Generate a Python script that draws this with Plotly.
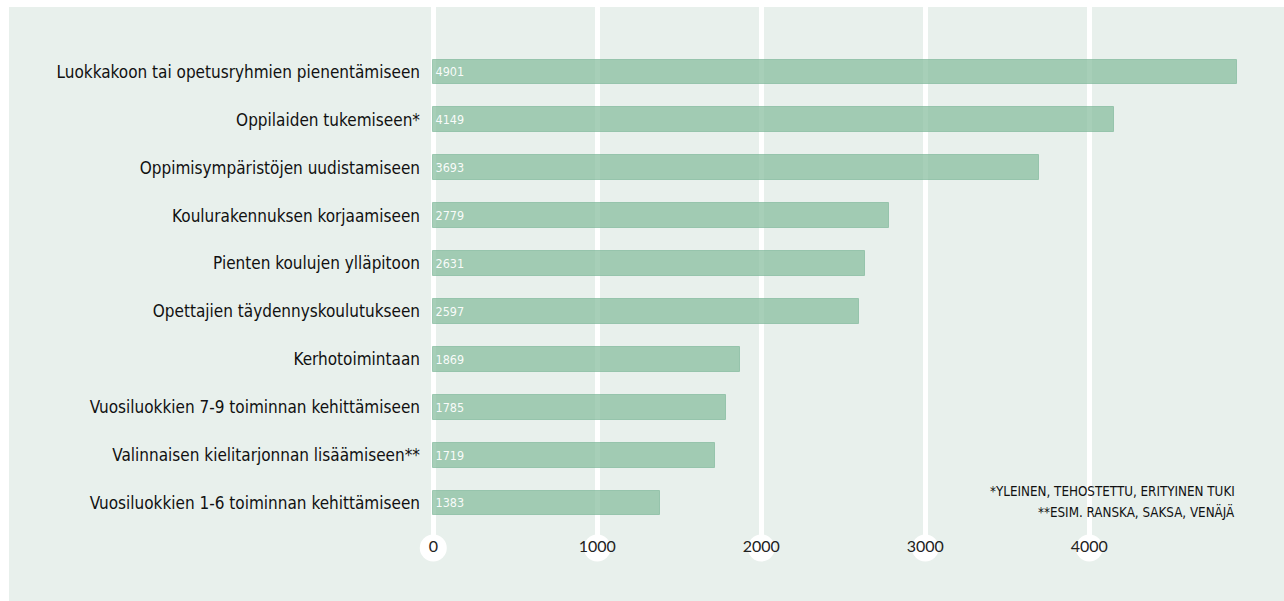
import plotly.graph_objects as go

# Survey answers: where additional school funding should be directed
categories = [
    "Luokkakoon tai opetusryhmien pienentämiseen",
    "Oppilaiden tukemiseen*",
    "Oppimisympäristöjen uudistamiseen",
    "Koulurakennuksen korjaamiseen",
    "Pienten koulujen ylläpitoon",
    "Opettajien täydennyskoulutukseen",
    "Kerhotoimintaan",
    "Vuosiluokkien 7-9 toiminnan kehittämiseen",
    "Valinnaisen kielitarjonnan lisäämiseen**",
    "Vuosiluokkien 1-6 toiminnan kehittämiseen",
]
values = [4901, 4149, 3693, 2779, 2631, 2597, 1869, 1785, 1719, 1383]
tick_values = [0, 1000, 2000, 3000, 4000]
tick_labels = ["0", "1000", "2000", "3000", "4000"]
footnote_lines = [
    "*YLEINEN, TEHOSTETTU, ERITYINEN TUKI",
    "**ESIM. RANSKA, SAKSA, VENÄJÄ",
]

W, H = 1284, 601
M_L, M_R, M_T, M_B = 430, 0, 7, 53
PLOT_W = W - M_L - M_R
PLOT_H = H - M_T - M_B
PX_PER_UNIT = 0.164
X_MIN = -20  # small lead-in so the zero grid line is drawn
BG = "#e8f0ec"
COND = "DejaVu Sans Condensed, DejaVu Sans, sans-serif"

fig = go.Figure()

fig.add_trace(go.Bar(
    x=values,
    y=categories,
    orientation="h",
    width=0.52,
    marker=dict(color="rgba(133,189,157,0.72)",
                line=dict(color="rgba(120,180,148,0.6)", width=1)),
    text=[str(v) for v in values],
    textposition="inside",
    insidetextanchor="start",
    textfont=dict(family=COND, size=12.5, color="rgba(255,255,255,0.95)"),
    constraintext="none",
    hoverinfo="skip",
))

# White knobs at the foot of each grid line carrying the x tick labels
fig.add_trace(go.Scatter(
    x=tick_values,
    y=[0] * len(tick_values),
    yaxis="y2",
    mode="markers+text",
    marker=dict(size=27, color="white", line=dict(width=0)),
    text=tick_labels,
    textposition="middle center",
    textfont=dict(family="Lato, sans-serif", size=16, color="#222222"),
    cliponaxis=False,
    hoverinfo="skip",
    showlegend=False,
))

# Footnotes, one annotation per line, right-aligned to the longest bar
footnotes = [
    dict(xref="x", yref="paper",
         x=values[0] - 3, y=(H - M_B - y_px) / PLOT_H,
         xanchor="right", yanchor="middle", align="right",
         showarrow=False, text=line,
         font=dict(family=COND, size=13.3, color="#111111"))
    for line, y_px in zip(footnote_lines, [491, 511])
]

fig.update_layout(
    width=W, height=H,
    margin=dict(l=M_L, r=M_R, t=M_T, b=M_B),
    paper_bgcolor="white",
    plot_bgcolor="rgba(0,0,0,0)",
    showlegend=False,
    bargap=0,
    xaxis=dict(
        range=[X_MIN, X_MIN + PLOT_W / PX_PER_UNIT],
        tickvals=tick_values,
        showticklabels=False,
        showgrid=True, gridcolor="white", gridwidth=5,
        zeroline=False, showline=False, ticks="",
    ),
    yaxis=dict(
        type="category",
        range=[9.94, -1.357],
        showgrid=False, zeroline=False, showline=False,
        ticks="",
        ticklabelstandoff=9,
        tickfont=dict(family=COND, size=17, color="#111111"),
    ),
    yaxis2=dict(
        overlaying="y", range=[0, 1], visible=False, fixedrange=True,
    ),
    shapes=[dict(
        type="rect", xref="paper", yref="paper", layer="below",
        x0=(9 - M_L) / PLOT_W, x1=1,
        y0=-M_B / PLOT_H, y1=1,
        fillcolor=BG, line=dict(width=0),
    )],
    annotations=footnotes,
)

fig.write_html("out.html")
